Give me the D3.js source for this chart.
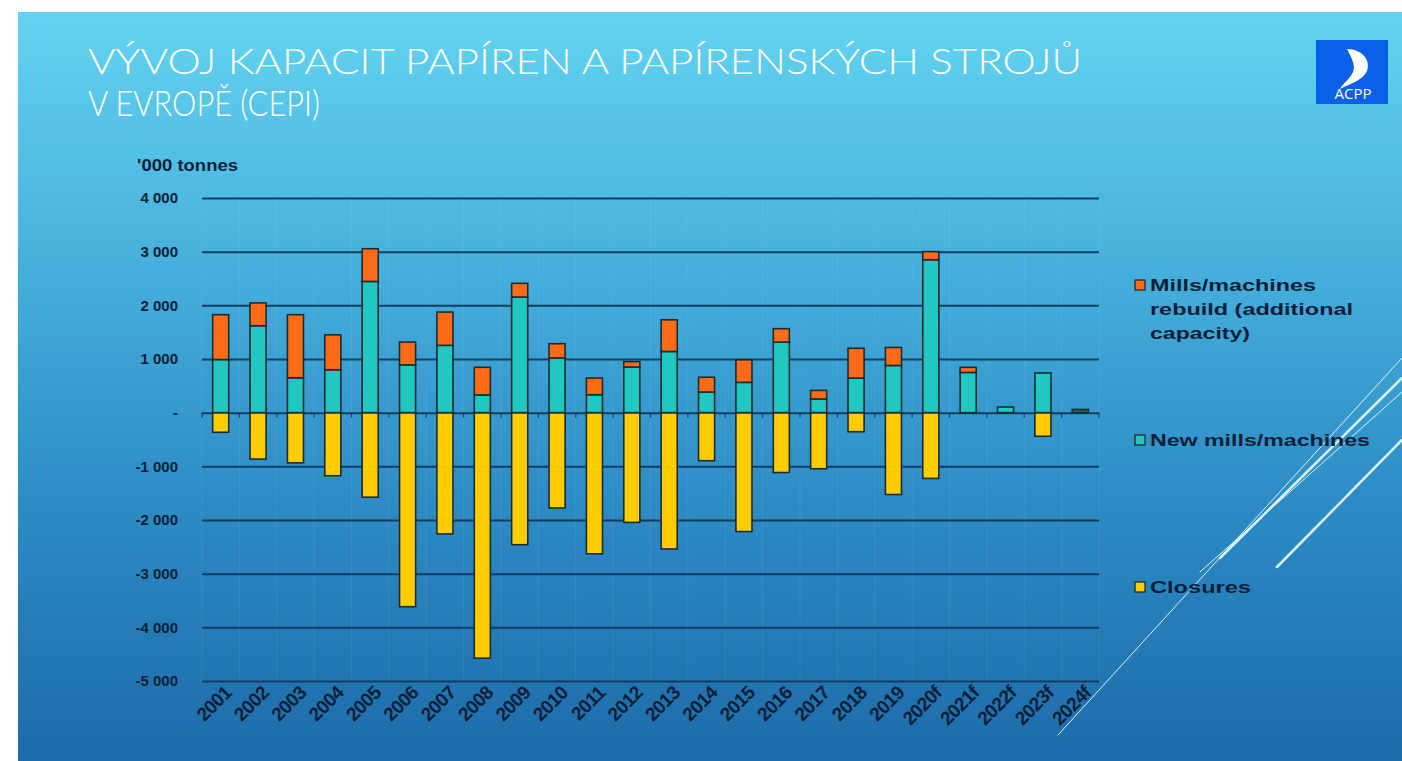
<!DOCTYPE html>
<html>
<head>
<meta charset="utf-8">
<script src="https://cdn.jsdelivr.net/npm/d3@7"></script>
<style>
  html, body { margin: 0; padding: 0; background: #fff; }
  svg { display: block; }
</style>
</head>
<body>
<script>
// capacity changes in Europe, '000 tonnes
var years = ["2001","2002","2003","2004","2005","2006","2007","2008","2009","2010","2011","2012",
             "2013","2014","2015","2016","2017","2018","2019","2020f","2021f","2022f","2023f","2024f"];
var newMills = [990,1620,650,800,2445,890,1255,330,2155,1020,335,850,
                1140,385,565,1315,255,645,880,2850,750,105,740,60];
var rebuild  = [835,425,1175,650,610,425,620,515,255,265,310,100,
                590,275,420,250,160,555,335,150,95,0,0,0];
var closures = [-365,-865,-935,-1175,-1575,-3615,-2260,-4575,-2460,-1775,-2630,-2045,
                -2540,-895,-2215,-1115,-1045,-355,-1525,-1225,0,0,-440,0];
var yTicks = [4000,3000,2000,1000,0,-1000,-2000,-3000,-4000,-5000];
var seriesColors = ["#ff6b17", "#22c7c0", "#ffcc00"];

var W = 1402, H = 761;
var ink = "#0c1e38";

var svg = d3.select("body").append("svg")
    .attr("width", W)
    .attr("height", H);

var defs = svg.append("defs");
var grad = defs.append("linearGradient")
    .attr("id", "bg")
    .attr("x1", 0).attr("y1", 0).attr("x2", 0).attr("y2", 1);
grad.append("stop").attr("offset", "0").attr("stop-color", "#64d3f0");
grad.append("stop").attr("offset", "0.3").attr("stop-color", "#49b4de");
grad.append("stop").attr("offset", "0.65").attr("stop-color", "#2d8cc5");
grad.append("stop").attr("offset", "1").attr("stop-color", "#1d6ba8");

// slide background (white margin top/left)
svg.append("rect")
    .attr("x", 18).attr("y", 12)
    .attr("width", W - 18).attr("height", H - 12)
    .attr("fill", "url(#bg)");

// decorative diagonal strokes on the right
var deco = [
  {x1:1058, y1:735, x2:1402, y2:358, w:1},
  {x1:1200, y1:572, x2:1402, y2:392, w:1},
  {x1:1220, y1:558, x2:1402, y2:378, w:2.5},
  {x1:1277, y1:567, x2:1402, y2:440, w:2.5}
];
svg.append("g").selectAll("line")
  .data(deco)
  .enter()
  .append("line")
  .attr("x1", function(d){ return d.x1; })
  .attr("y1", function(d){ return d.y1; })
  .attr("x2", function(d){ return d.x2; })
  .attr("y2", function(d){ return d.y2; })
  .attr("stroke", "#d8f3fb")
  .attr("stroke-width", function(d){ return d.w; })
  .attr("stroke-linecap", "round");

// title
var title = svg.append("g")
    .attr("fill", "#ffffff")
    .style("font-family", "Lato, 'Open Sans', sans-serif")
    .style("font-weight", 300)
    .style("font-size", "35px");
title.append("text")
    .attr("x", 88).attr("y", 74)
    .attr("textLength", 994)
    .attr("lengthAdjust", "spacingAndGlyphs")
    .text("VÝVOJ KAPACIT PAPÍREN A PAPÍRENSKÝCH STROJŮ");
title.append("text")
    .attr("x", 88).attr("y", 116)
    .attr("textLength", 232)
    .attr("lengthAdjust", "spacingAndGlyphs")
    .text("V EVROPĚ (CEPI)");

// logo
var logo = svg.append("g");
logo.append("rect")
    .attr("x", 1316).attr("y", 40)
    .attr("width", 72).attr("height", 64)
    .attr("fill", "#0b5ee6");
logo.append("path")
    .attr("d", "M1347,49 C1362,49 1371,60 1367,71 C1363,80 1352,83 1340,89 C1343,83 1350,79 1353,72 C1356,65 1351,57 1347,49 Z")
    .attr("fill", "#ffffff");
logo.append("text")
    .attr("x", 1353).attr("y", 99)
    .attr("text-anchor", "middle")
    .attr("fill", "#ffffff")
    .style("font-family", "'Open Sans', Arial, sans-serif")
    .style("font-size", "15px")
    .text("ACPP");

// chart
var x = d3.scaleBand()
    .domain(years)
    .range([202, 1099])
    .paddingInner(0.57)
    .paddingOuter(0.285);

var y = d3.scaleLinear()
    .domain([-5000, 4000])
    .range([681, 198]);

var labelFont = "'Liberation Sans', Arial, sans-serif";

// faint vertical category separators
var seps = d3.range(years.length + 1).map(function(i){ return 202 + i * (1099 - 202) / years.length; });
svg.append("g").selectAll("line")
  .data(seps)
  .enter()
  .append("line")
  .attr("x1", function(d){ return d; })
  .attr("x2", function(d){ return d; })
  .attr("y1", y(4000))
  .attr("y2", y(-5000))
  .attr("stroke", "#ffffff")
  .attr("stroke-opacity", 0.07)
  .attr("stroke-width", 1);

// gridlines
var yAxis = d3.axisLeft(y)
    .tickValues(yTicks)
    .tickSize(-(1099 - 202))
    .tickFormat(function(d){
      if (d === 0) return "-";
      return d3.format(",")(d).replace(",", " ").replace("\u2212", "-");
    });
var gy = svg.append("g")
    .attr("transform", "translate(202,0)")
    .call(yAxis);
gy.select(".domain").remove();
gy.selectAll(".tick line")
    .attr("stroke", "#123d63")
    .attr("stroke-width", 2);
gy.selectAll(".tick text")
    .attr("x", -24)
    .attr("fill", ink)
    .style("font-family", labelFont)
    .style("font-weight", "bold")
    .style("font-size", "15px");

// zero-line tick marks
svg.append("g").selectAll("line")
  .data(seps)
  .enter()
  .append("line")
  .attr("x1", function(d){ return d; })
  .attr("x2", function(d){ return d; })
  .attr("y1", y(0))
  .attr("y2", y(0) + 5)
  .attr("stroke", "#123d63")
  .attr("stroke-width", 1.2);

// stacked bars
var rows = years.map(function(yr, i){
  return {year: yr, teal: newMills[i], orange: rebuild[i], yellow: closures[i]};
});

var bars = svg.append("g")
    .attr("stroke", "#1b2b33")
    .attr("stroke-width", 1.6);

bars.selectAll("rect.closure")
  .data(rows.filter(function(d){ return d.yellow < 0; }))
  .enter()
  .append("rect")
  .attr("class", "closure")
  .attr("x", function(d){ return x(d.year); })
  .attr("width", x.bandwidth())
  .attr("y", y(0))
  .attr("height", function(d){ return y(d.yellow) - y(0); })
  .attr("fill", seriesColors[2]);

bars.selectAll("rect.newm")
  .data(rows.filter(function(d){ return d.teal > 0; }))
  .enter()
  .append("rect")
  .attr("class", "newm")
  .attr("x", function(d){ return x(d.year); })
  .attr("width", x.bandwidth())
  .attr("y", function(d){ return y(d.teal); })
  .attr("height", function(d){ return y(0) - y(d.teal); })
  .attr("fill", function(d){ return d.year === "2024f" ? "#1f6a6e" : seriesColors[1]; });

bars.selectAll("rect.rebuild")
  .data(rows.filter(function(d){ return d.orange > 0; }))
  .enter()
  .append("rect")
  .attr("class", "rebuild")
  .attr("x", function(d){ return x(d.year); })
  .attr("width", x.bandwidth())
  .attr("y", function(d){ return y(d.teal + d.orange); })
  .attr("height", function(d){ return y(d.teal) - y(d.teal + d.orange); })
  .attr("fill", seriesColors[0]);

// x labels, rotated
svg.append("g").selectAll("text")
  .data(years)
  .enter()
  .append("text")
  .attr("transform", function(d){
    return "translate(" + (x(d) + x.bandwidth() / 2 + 12) + "," + 694 + ") rotate(-45)";
  })
  .attr("text-anchor", "end")
  .attr("fill", ink)
  .style("font-family", labelFont)
  .style("font-weight", "bold")
  .style("font-size", "19px")
  .style("letter-spacing", "-0.6px")
  .text(function(d){ return d; });

// unit label
svg.append("text")
    .attr("x", 137).attr("y", 171)
    .attr("fill", ink)
    .attr("textLength", 101)
    .attr("lengthAdjust", "spacingAndGlyphs")
    .style("font-family", labelFont)
    .style("font-weight", "bold")
    .style("font-size", "17px")
    .text("'000 tonnes");

// legend
var legend = [
  {i:0, y:285, lines:[["Mills/machines",166], ["rebuild (additional",203], ["capacity)",100]]},
  {i:1, y:440, lines:[["New mills/machines",220]]},
  {i:2, y:587, lines:[["Closures",101]]}
];
var lg = svg.append("g")
    .style("font-family", labelFont)
    .style("font-weight", "bold")
    .style("font-size", "17px");
legend.forEach(function(l){
  lg.append("rect")
    .attr("x", 1135).attr("y", l.y - 5)
    .attr("width", 10).attr("height", 10)
    .attr("fill", seriesColors[l.i])
    .attr("stroke", "#1b2b33")
    .attr("stroke-width", 1.3);
  l.lines.forEach(function(s, k){
    lg.append("text")
      .attr("x", 1150)
      .attr("y", l.y + 6 + k * 24)
      .attr("fill", ink)
      .attr("textLength", s[1])
      .attr("lengthAdjust", "spacingAndGlyphs")
      .text(s[0]);
  });
});
</script>
</body>
</html>
